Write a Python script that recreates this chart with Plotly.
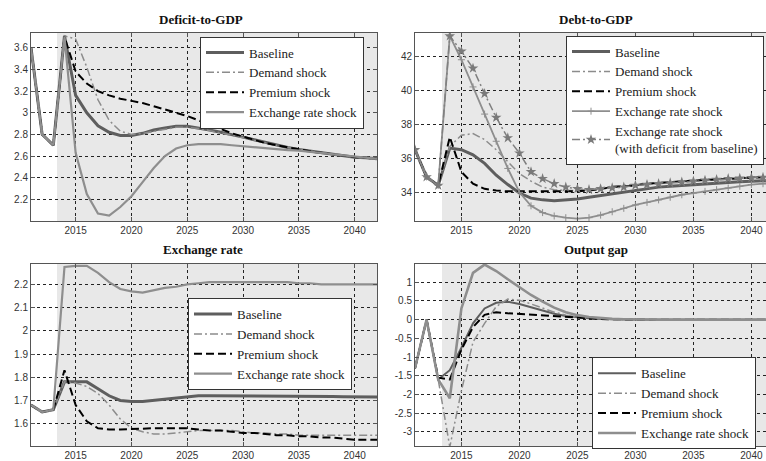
import plotly.graph_objects as go

years = list(range(2011, 2043))

# ---- Deficit-to-GDP ----
def_base = [3.60, 2.80, 2.70, 3.71, 3.16, 3.00, 2.88, 2.82, 2.79, 2.79, 2.81, 2.84, 2.86, 2.875, 2.875, 2.86,
            2.84, 2.82, 2.80, 2.775, 2.75, 2.725, 2.70, 2.68, 2.66, 2.645, 2.63, 2.615, 2.60, 2.59, 2.585, 2.575]
def_demand = [3.60, 2.80, 2.70, 3.71, 3.68, 3.42, 3.12, 2.93, 2.83, 2.80, 2.81, 2.83, 2.85, 2.865, 2.865, 2.855,
              2.835, 2.815, 2.795, 2.77, 2.745, 2.72, 2.70, 2.68, 2.66, 2.645, 2.63, 2.615, 2.60, 2.59, 2.585, 2.575]
def_prem = [3.60, 2.80, 2.70, 3.70, 3.38, 3.27, 3.20, 3.16, 3.13, 3.11, 3.09, 3.06, 3.03, 3.00, 2.97, 2.93,
            2.89, 2.85, 2.81, 2.78, 2.75, 2.72, 2.70, 2.68, 2.66, 2.645, 2.63, 2.615, 2.60, 2.59, 2.585, 2.575]
def_er = [3.60, 2.80, 2.70, 3.70, 2.63, 2.25, 2.07, 2.05, 2.13, 2.23, 2.36, 2.49, 2.60, 2.67, 2.70, 2.71,
          2.71, 2.71, 2.70, 2.69, 2.68, 2.67, 2.66, 2.655, 2.65, 2.64, 2.63, 2.62, 2.605, 2.595, 2.585, 2.575]

# ---- Debt-to-GDP ----
debt_base = [36.5, 34.9, 34.4, 36.6, 36.5, 36.2, 35.7, 35.0, 34.45, 33.95, 33.65, 33.55, 33.5, 33.55, 33.6, 33.7,
             33.8, 33.9, 34.0, 34.1, 34.2, 34.3, 34.35, 34.4, 34.45, 34.5, 34.55, 34.6, 34.62, 34.65, 34.68, 34.7]
debt_demand = [36.5, 34.9, 34.4, 36.7, 37.35, 37.45, 37.1, 36.5, 35.8, 35.1, 34.65, 34.3, 34.15, 34.1, 34.1, 34.15,
               34.25, 34.35, 34.4, 34.45, 34.5, 34.55, 34.6, 34.65, 34.7, 34.72, 34.75, 34.8, 34.82, 34.85, 34.87, 34.9]
debt_prem = [36.5, 34.9, 34.4, 37.25, 35.2, 34.5, 34.2, 34.1, 34.05, 34.05, 34.05, 34.05, 34.05, 34.05, 34.05, 34.1,
             34.2, 34.3, 34.35, 34.4, 34.5, 34.55, 34.6, 34.65, 34.7, 34.72, 34.75, 34.8, 34.82, 34.85, 34.87, 34.9]
debt_er = [36.5, 34.9, 34.4, 43.2, 41.8, 40.2, 38.6, 37.0, 35.4, 34.0, 33.2, 32.8, 32.6, 32.5, 32.45, 32.5,
           32.65, 32.85, 33.05, 33.25, 33.4, 33.55, 33.7, 33.85, 33.95, 34.05, 34.15, 34.25, 34.35, 34.45, 34.5, 34.55]
debt_er_def = [36.5, 34.9, 34.4, 43.2, 42.3, 41.3, 39.8, 38.4, 37.2, 36.3, 35.2, 34.8, 34.5, 34.3, 34.2, 34.15,
               34.2, 34.25, 34.3, 34.4, 34.45, 34.5, 34.55, 34.6, 34.65, 34.7, 34.75, 34.8, 34.82, 34.85, 34.87, 34.9]

# ---- Exchange rate ----
xr_base = [1.68, 1.65, 1.66, 1.78, 1.78, 1.78, 1.75, 1.72, 1.70, 1.695, 1.695, 1.70, 1.705, 1.71, 1.715, 1.72,
           1.72, 1.72, 1.72, 1.72, 1.72, 1.72, 1.72, 1.72, 1.72, 1.72, 1.718, 1.717, 1.716, 1.715, 1.715, 1.715]
xr_demand = [1.68, 1.65, 1.66, 1.78, 1.775, 1.76, 1.73, 1.68, 1.62, 1.58, 1.565, 1.555, 1.555, 1.56, 1.565, 1.57,
             1.57, 1.57, 1.57, 1.565, 1.56, 1.56, 1.555, 1.555, 1.55, 1.55, 1.55, 1.55, 1.55, 1.55, 1.55, 1.55]
xr_prem = [1.68, 1.65, 1.66, 1.83, 1.68, 1.61, 1.58, 1.575, 1.575, 1.575, 1.578, 1.58, 1.58, 1.58, 1.58, 1.575,
           1.57, 1.57, 1.565, 1.56, 1.56, 1.555, 1.55, 1.55, 1.545, 1.545, 1.54, 1.54, 1.535, 1.53, 1.53, 1.53]
xr_er = [1.68, 1.65, 1.66, 2.275, 2.28, 2.28, 2.25, 2.21, 2.18, 2.17, 2.165, 2.175, 2.185, 2.19, 2.2, 2.205,
         2.21, 2.21, 2.21, 2.21, 2.21, 2.21, 2.21, 2.21, 2.205, 2.205, 2.2, 2.2, 2.2, 2.2, 2.2, 2.2]

# ---- Output gap ----
og_base = [-1.3, 0.0, -1.6, -1.35, -0.75, -0.1, 0.3, 0.45, 0.48, 0.42, 0.33, 0.24, 0.16, 0.1, 0.06, 0.04,
           0.02, 0.01, 0.0, 0.0, 0.0, 0.0, 0.0, 0.0, 0.0, 0.0, 0.0, 0.0, 0.0, 0.0, 0.0, 0.0]
og_demand = [-1.3, 0.0, -1.6, -3.4, -1.9, -0.6, -0.1, 0.35, 0.55, 0.52, 0.42, 0.3, 0.2, 0.12, 0.07, 0.04,
             0.02, 0.01, 0.0, 0.0, 0.0, 0.0, 0.0, 0.0, 0.0, 0.0, 0.0, 0.0, 0.0, 0.0, 0.0, 0.0]
og_prem = [-1.3, 0.0, -1.55, -1.6, -0.8, -0.2, 0.13, 0.2, 0.17, 0.15, 0.12, 0.1, 0.08, 0.06, 0.04, 0.03,
           0.02, 0.01, 0.0, 0.0, 0.0, 0.0, 0.0, 0.0, 0.0, 0.0, 0.0, 0.0, 0.0, 0.0, 0.0, 0.0]
og_er = [-1.3, 0.0, -1.6, -2.1, 0.3, 1.25, 1.47, 1.3, 1.08, 0.86, 0.66, 0.48, 0.32, 0.2, 0.12, 0.07,
         0.04, 0.02, 0.01, 0.0, 0.0, 0.0, 0.0, 0.0, 0.0, 0.0, 0.0, 0.0, 0.0, 0.0, 0.0, 0.0]

titles = ["Deficit-to-GDP", "Debt-to-GDP", "Exchange rate", "Output gap"]
series_names = ["Baseline", "Demand shock", "Premium shock", "Exchange rate shock"]
extra_name = "Exchange rate shock<br>(with deficit from baseline)"

x_ticks = [2015, 2020, 2025, 2030, 2035, 2040]
y1_ticks = [2.2, 2.4, 2.6, 2.8, 3.0, 3.2, 3.4, 3.6]
y1_text = ["2.2", "2.4", "2.6", "2.8", "3", "3.2", "3.4", "3.6"]
y2_ticks = [34, 36, 38, 40, 42]
y2_text = ["34", "36", "38", "40", "42"]
y3_ticks = [1.6, 1.7, 1.8, 1.9, 2.0, 2.1, 2.2]
y3_text = ["1.6", "1.7", "1.8", "1.9", "2", "2.1", "2.2"]
y4_ticks = [-3, -2.5, -2, -1.5, -1, -0.5, 0, 0.5, 1]
y4_text = ["-3", "-2.5", "-2", "-1.5", "-1", "-0.5", "0", "0.5", "1"]

W, H = 766, 461
C_BASE = "#5e5e5e"
C_DEM = "#8c8c8c"
C_PREM = "#000000"
C_ER = "#8e8e8e"
SERIF = "Liberation Serif"
SANS = "Liberation Sans"

fig = go.Figure()


def add_panel(idx, data, legend_name, base_w=3.0, er_w=2.2, er_marker=False):
    xa = "x" if idx == 1 else f"x{idx}"
    ya = "y" if idx == 1 else f"y{idx}"
    b, d, p, e = data
    fig.add_trace(go.Scatter(x=years, y=b, mode="lines", name=series_names[0],
                             line=dict(color=C_BASE, width=base_w), xaxis=xa, yaxis=ya, legend=legend_name))
    fig.add_trace(go.Scatter(x=years, y=d, mode="lines", name=series_names[1],
                             line=dict(color=C_DEM, width=1.5, dash="8px,3px,2px,3px"),
                             xaxis=xa, yaxis=ya, legend=legend_name))
    fig.add_trace(go.Scatter(x=years, y=p, mode="lines", name=series_names[2],
                             line=dict(color=C_PREM, width=2, dash="8px,4px"),
                             xaxis=xa, yaxis=ya, legend=legend_name))
    if er_marker:
        fig.add_trace(go.Scatter(x=years, y=e, mode="lines+markers", name=series_names[3],
                                 line=dict(color=C_ER, width=er_w),
                                 marker=dict(symbol="cross-thin", size=5, line=dict(color=C_ER, width=1)),
                                 xaxis=xa, yaxis=ya, legend=legend_name))
    else:
        fig.add_trace(go.Scatter(x=years, y=e, mode="lines", name=series_names[3],
                                 line=dict(color=C_ER, width=er_w), xaxis=xa, yaxis=ya, legend=legend_name))


add_panel(1, (def_base, def_demand, def_prem, def_er), "legend")
add_panel(2, (debt_base, debt_demand, debt_prem, debt_er), "legend2", er_w=1.8, er_marker=True)
fig.add_trace(go.Scatter(x=years, y=debt_er_def, mode="lines+markers", name=extra_name,
                         line=dict(color="#808080", width=1.5, dash="8px,3px,2px,3px"),
                         marker=dict(symbol="star", size=8, color="#7a7a7a"),
                         xaxis="x2", yaxis="y2", legend="legend2"))
add_panel(3, (xr_base, xr_demand, xr_prem, xr_er), "legend3")
add_panel(4, (og_base, og_demand, og_prem, og_er), "legend4", base_w=2.0, er_w=2.6)

# domains in pixels
left_dom = [31 / W, 377 / W]
right_dom = [415 / W, 1.0]
top_dom = [1 - 224 / H, 1 - 33 / H]
bot_dom = [1 - 452 / H, 1 - 267 / H]

axis_common = dict(showline=True, linecolor="#555555", linewidth=1, ticks="inside", ticklen=4,
                   tickcolor="#555555", showgrid=True, gridcolor="#222222", griddash="dot", gridwidth=1,
                   zeroline=False, tickfont=dict(family=SANS, size=10, color="#333333"))

x_left_range = [2011, 2042]
x_right_range = [2011, 2011 + (766 - 415) / 11.6]

layout_axes = {}
specs = [
    (1, left_dom, top_dom, x_left_range, [2.0, 3.74], y1_ticks, y1_text, True),
    (2, right_dom, top_dom, x_right_range, [32.3, 43.4], y2_ticks, y2_text, False),
    (3, left_dom, bot_dom, x_left_range, [1.503, 2.29], y3_ticks, y3_text, True),
    (4, right_dom, bot_dom, x_right_range, [-3.38, 1.5], y4_ticks, y4_text, False),
]
for idx, xd, yd, xr, yr, ytv, ytt, mir in specs:
    xk = "xaxis" if idx == 1 else f"xaxis{idx}"
    yk = "yaxis" if idx == 1 else f"yaxis{idx}"
    ya = "y" if idx == 1 else f"y{idx}"
    xa = "x" if idx == 1 else f"x{idx}"
    layout_axes[xk] = dict(axis_common, domain=xd, range=xr, anchor=ya, tickvals=x_ticks,
                           ticktext=[str(t) for t in x_ticks], mirror="ticks")
    layout_axes[yk] = dict(axis_common, domain=yd, range=yr, anchor=xa, tickvals=ytv, ticktext=ytt,
                           mirror="ticks" if mir else False)
    fig.add_shape(type="rect", xref=xa, yref=f"{ya} domain", x0=2013.33, x1=2045, y0=0, y1=1,
                  fillcolor="#e8e8e8", line=dict(width=0), layer="below")

fig.update_layout(**layout_axes)

legend_font = dict(family=SERIF, size=13, color="#222222")
legend_common = dict(bgcolor="white", bordercolor="#333333", borderwidth=1, font=legend_font,
                     xanchor="left", yanchor="top", tracegroupgap=0, itemwidth=38)
fig.update_layout(
    legend=dict(legend_common, x=200 / W, y=1 - 37 / H),
    legend2=dict(legend_common, x=566 / W, y=1 - 36 / H),
    legend3=dict(legend_common, x=188 / W, y=1 - 302 / H),
    legend4=dict(legend_common, x=592 / W, y=1 - 362 / H),
)

title_pos = [(201, 20), (596, 20), (203, 253), (596, 253)]
for t, (px, py) in zip(titles, title_pos):
    fig.add_annotation(text=f"<b>{t}</b>", xref="paper", yref="paper", x=px / W, y=1 - py / H,
                       xanchor="center", yanchor="middle", showarrow=False,
                       font=dict(family=SERIF, size=13, color="#111111"))

fig.update_layout(width=W, height=H, margin=dict(l=0, r=0, t=0, b=0),
                  font=dict(family=SERIF, size=13, color="#222222"),
                  paper_bgcolor="white", plot_bgcolor="white", showlegend=True)

fig.write_html("out.html")
